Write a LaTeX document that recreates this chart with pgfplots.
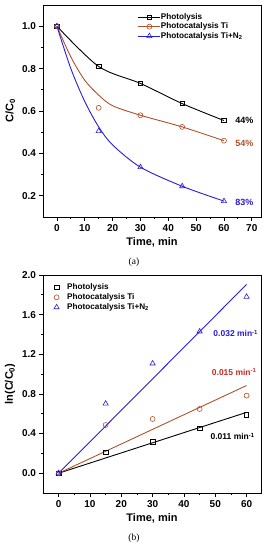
\documentclass[border=0pt]{standalone}
\usepackage{pgfplots}
\pgfplotsset{compat=1.18}
\usepackage{fontspec}
\setmainfont{Liberation Sans}
\newfontfamily\serif{Liberation Serif}
\definecolor{cbrown}{RGB}{176,80,42}
\definecolor{cblue}{RGB}{40,30,210}
\definecolor{cred}{RGB}{190,45,40}
\pgfplotsset{myax/.style={scale only axis, width=218pt,
  tick align=outside, xtick pos=lower, ytick pos=left,
  minor x tick num=1, minor y tick num=1,
  major tick length=3.5pt, minor tick length=2pt,
  every tick/.style={black, line width=0.8pt},
  axis line style={line width=0.9pt},
  tick label style={font=\fontsize{10}{11}\selectfont\bfseries},
  label style={font=\fontsize{11}{13}\selectfont\bfseries},
  /pgf/number format/assume math mode=true,
  yticklabel style={/pgf/number format/.cd, fixed, fixed zerofill, precision=1},
  legend cell align=left,
}}
\begin{document}
\begin{tikzpicture}
\useasboundingbox (0,0) rectangle (269pt,-550pt);
% ---------------- (a)
\begin{axis}[myax, at={(43pt,-5pt)}, anchor=north west, height=212pt,
  xmin=-5, xmax=73.3, ymin=0.1, ymax=1.1,
  xtick={0,10,...,70}, ytick={0.2,0.4,0.6,0.8,1.0},
  xlabel={Time, min}, ylabel={C/C\textsubscript{0}},
  legend image code/.code={\draw[mark repeat=2,mark phase=2] plot coordinates {(0pt,0pt)(11pt,0pt)(22pt,0pt)};},
  legend style={at={(0.43,0.975)}, anchor=north west, draw=none, fill=none,
    font=\fontsize{8.2}{9}\selectfont\bfseries, row sep=-2pt,
    inner sep=1pt, /tikz/every odd column/.append style={column sep=-2pt}}]
\addlegendimage{black, line width=0.9pt, mark=square, mark size=2.2pt, mark options={fill=white, line width=0.6pt}}
\addlegendentry{Photolysis}
\addlegendimage{cbrown, line width=0.9pt, mark=o, mark size=2.5pt, mark options={fill=white, line width=0.6pt}}
\addlegendentry{Photocatalysis Ti}
\addlegendimage{cblue, line width=0.9pt, mark=triangle, mark size=3pt, mark options={fill=white, line width=0.6pt}}
\addlegendentry{Photocatalysis Ti+N\textsubscript{2}}
\addplot[black, line width=0.9pt, smooth, forget plot] coordinates {(0,1.0)(15,0.81)(30,0.73)(45,0.635)(60,0.555)};
\addplot[cbrown, line width=0.9pt, smooth, forget plot] coordinates {(0,1.0)(5,0.855)(10,0.745)(15,0.675)(20,0.625)(30,0.58)(45,0.525)(60,0.46)};
\addplot[cblue, line width=0.9pt, smooth, forget plot] coordinates {(0,1.0)(5,0.80)(10,0.645)(15,0.525)(20,0.44)(30,0.335)(45,0.245)(60,0.175)};
\addplot[black, only marks, mark=square, mark size=2.2pt, mark options={fill=white, line width=0.6pt}, forget plot] coordinates {(0,1.0)(15,0.81)(30,0.73)(45,0.635)(60,0.555)};
\addplot[cbrown, only marks, mark=o, mark size=2.5pt, mark options={fill=white, line width=0.6pt}, forget plot] coordinates {(0,1.0)(15,0.615)(30,0.58)(45,0.525)(60,0.46)};
\addplot[cblue, only marks, mark=triangle, mark size=3pt, mark options={fill=white, line width=0.6pt}, forget plot] coordinates {(0,1.0)(15,0.505)(30,0.335)(45,0.245)(60,0.175)};
\node[anchor=west, font=\fontsize{9}{10}\selectfont\bfseries, black] at (axis cs:62.8,0.555) {44\%};
\node[anchor=west, font=\fontsize{9}{10}\selectfont\bfseries, cbrown] at (axis cs:62.8,0.447) {54\%};
\node[anchor=west, font=\fontsize{9}{10}\selectfont\bfseries, cblue] at (axis cs:62.8,0.167) {83\%};
\end{axis}
\node[font=\serif\fontsize{9.5}{10}\selectfont] at (134pt,-262pt) {(a)};
% ---------------- (b)
\begin{axis}[myax, at={(43pt,-275pt)}, anchor=north west, height=218pt,
  xmin=-5, xmax=64.6, ymin=-0.2, ymax=2.0,
  xtick={0,10,...,60}, ytick={0,0.4,...,2.0},
  xlabel={Time, min}, ylabel={ln(C/C\textsubscript{0})},
  legend style={at={(0.045,0.975)}, anchor=north west, draw=none, fill=none,
    font=\fontsize{8.2}{9}\selectfont\bfseries, row sep=-1.5pt, inner sep=1pt,
    /tikz/every odd column/.append style={column sep=6pt}}]
\addplot[black, only marks, mark=square, mark size=2.2pt, mark options={fill=white, line width=0.6pt}] coordinates {(0,0)(15,0.21)(30,0.317)(45,0.456)(60,0.588)};
\addlegendentry{Photolysis}
\addplot[cbrown, only marks, mark=o, mark size=2.5pt, mark options={fill=white, line width=0.6pt}] coordinates {(0,0)(15,0.486)(30,0.547)(45,0.648)(60,0.783)};
\addlegendentry{Photocatalysis Ti}
\addplot[cblue, only marks, mark=triangle, mark size=3pt, mark options={fill=white, line width=0.6pt}] coordinates {(0,0)(15,0.702)(30,1.107)(45,1.43)(60,1.78)};
\addlegendentry{Photocatalysis Ti+N\textsubscript{2}}
\addplot[black, line width=0.9pt, forget plot] coordinates {(0,0)(60,0.614)};
\addplot[cbrown, line width=0.9pt, forget plot] coordinates {(0,0)(60,0.885)};
\addplot[cblue, line width=0.9pt, forget plot] coordinates {(0,0)(60,1.905)};
\node[anchor=west, font=\fontsize{8.5}{9}\selectfont\bfseries, cblue] at (axis cs:48.3,1.41) {0.032 min\textsuperscript{-1}};
\node[anchor=west, font=\fontsize{8.5}{9}\selectfont\bfseries, cred] at (axis cs:47.8,1.023) {0.015 min\textsuperscript{-1}};
\node[anchor=west, font=\fontsize{8.5}{9}\selectfont\bfseries, black] at (axis cs:47.4,0.371) {0.011 min\textsuperscript{-1}};
\end{axis}
\node[font=\serif\fontsize{9.5}{10}\selectfont] at (134pt,-538pt) {(b)};
\end{tikzpicture}
\end{document}
